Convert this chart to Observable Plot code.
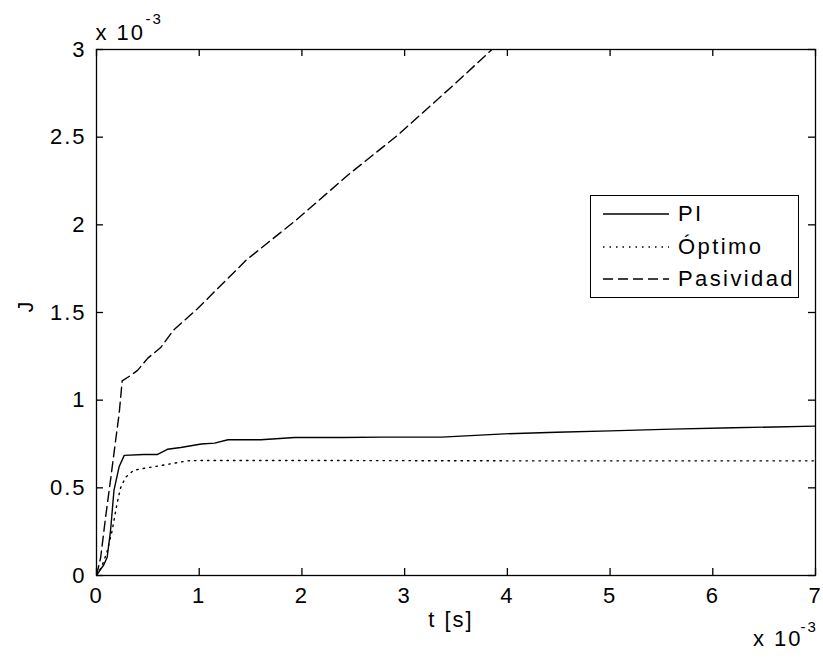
<!DOCTYPE html>
<html>
<head>
<meta charset="utf-8">
<script src="https://cdn.jsdelivr.net/npm/d3@7"></script>
<script src="https://cdn.jsdelivr.net/npm/@observablehq/plot@0.6"></script>
<style>
  html, body { margin: 0; padding: 0; background: #fff; }
  #wrap { position: relative; width: 823px; height: 659px; font-family: "Liberation Sans", Arial, sans-serif; }
  #legend { position: absolute; left: 590px; top: 195px; width: 209px; height: 103px; border: 1px solid #000; background: #fff; box-sizing: border-box; }
  #legend .row { position: absolute; left: 0; height: 30px; display: flex; align-items: center; }
  #legend .row span { font-size: 22px; letter-spacing: 2.4px; margin-left: 9px; }
</style>
</head>
<body>
<div id="wrap"></div>
<script>
// time in ms (x 10^-3 s), J in x 10^-3
const tPI  = [0, 0.04, 0.07, 0.104, 0.137, 0.17, 0.22, 0.27, 0.46, 0.59, 0.69, 0.82, 1.02, 1.15, 1.28, 1.6, 1.93, 2.4, 2.77, 3.36, 3.97, 4.48, 5.0, 5.6, 6.2, 6.6, 7.0];
const jPI  = [0, 0.035, 0.06, 0.104, 0.257, 0.485, 0.62, 0.685, 0.69, 0.69, 0.72, 0.73, 0.75, 0.755, 0.774, 0.774, 0.787, 0.787, 0.789, 0.789, 0.808, 0.817, 0.825, 0.835, 0.843, 0.847, 0.852];
const tOpt = [0, 0.05, 0.1, 0.15, 0.2, 0.234, 0.283, 0.36, 0.5, 0.625, 0.89, 1.0, 2.0, 3.0, 4.0, 5.0, 6.0, 7.0];
const jOpt = [0, 0.05, 0.13, 0.25, 0.41, 0.50, 0.56, 0.60, 0.615, 0.627, 0.654, 0.656, 0.656, 0.655, 0.654, 0.654, 0.654, 0.654];
const tPas = [0, 0.04, 0.088, 0.14, 0.186, 0.22, 0.25, 0.33, 0.40, 0.5, 0.625, 0.75, 0.98, 1.46, 1.95, 2.44, 2.93, 3.5, 3.85];
const jPas = [0, 0.10, 0.33, 0.56, 0.77, 0.92, 1.11, 1.14, 1.17, 1.24, 1.30, 1.40, 1.52, 1.80, 2.03, 2.28, 2.51, 2.81, 3.0];
const xTicks = [0, 1, 2, 3, 4, 5, 6, 7];
const yTicks = [0, 0.5, 1, 1.5, 2, 2.5, 3];
const seriesNames = ["PI", "Óptimo", "Pasividad"];
const xLabel = "t [s]";
const yLabel = "J";
const expBase = "x 10";
const expPow = "-3";

const mk = (ts, js) => ts.map((t, i) => ({t, j: js[i]}));
const dPI = mk(tPI, jPI), dOpt = mk(tOpt, jOpt), dPas = mk(tPas, jPas);
const dashes = ["none", "1.5,5", "10,5"];

const W = 823, H = 659, mL = 96, mR = 8, mT = 49, mB = 84;
const fw = W - mL - mR, fh = H - mT - mB, tk = 7;
const fs = 22;
const chart = Plot.plot({
  width: W,
  height: H,
  marginLeft: mL,
  marginRight: mR,
  marginTop: mT,
  marginBottom: mB,
  style: {fontFamily: "Liberation Sans, Arial, sans-serif", fontSize: fs + "px", background: "#fff", color: "#000", letterSpacing: "2px"},
  x: {domain: [0, 7], ticks: xTicks},
  y: {domain: [0, 3], ticks: yTicks},
  marks: [
    Plot.frame({stroke: "#000", strokeWidth: 1.3}),
    // tick labels
    Plot.axisX(xTicks, {anchor: "bottom", tickSize: 0, tickPadding: 12, label: null, tickFormat: d => String(d)}),
    Plot.axisY(yTicks, {anchor: "left", tickSize: 0, tickPadding: 10, label: null, tickFormat: d => String(d)}),
    // inward ticks on all four sides
    Plot.tickX(xTicks, {x: d => d, insetTop: fh - tk, stroke: "#000", strokeWidth: 1.3}),
    Plot.tickX(xTicks, {x: d => d, insetBottom: fh - tk, stroke: "#000", strokeWidth: 1.3}),
    Plot.tickY(yTicks, {y: d => d, insetRight: fw - tk, stroke: "#000", strokeWidth: 1.3}),
    Plot.tickY(yTicks, {y: d => d, insetLeft: fw - tk, stroke: "#000", strokeWidth: 1.3}),
    // series
    Plot.line(dPI, {x: "t", y: "j", stroke: "#000", strokeWidth: 1.4, clip: true}),
    Plot.line(dOpt, {x: "t", y: "j", stroke: "#000", strokeWidth: 1.4, strokeDasharray: dashes[1], clip: true}),
    Plot.line(dPas, {x: "t", y: "j", stroke: "#000", strokeWidth: 1.4, strokeDasharray: dashes[2], clip: true}),
    // axis labels
    Plot.text([xLabel], {frameAnchor: "bottom", dx: -5, dy: 51, text: d => d, fontSize: fs}),
    Plot.text([yLabel], {frameAnchor: "left", dx: -71, rotate: -90, text: d => d, fontSize: fs}),
    // exponent labels
    Plot.text([expBase], {frameAnchor: "top-left", textAnchor: "start", lineAnchor: "bottom", dx: -1, dy: -10, text: d => d, fontSize: fs}),
    Plot.text([expPow], {frameAnchor: "top-left", textAnchor: "start", lineAnchor: "bottom", dx: 49, dy: -26, text: d => d, fontSize: 15}),
    Plot.text([expBase], {frameAnchor: "bottom-right", textAnchor: "end", lineAnchor: "bottom", dx: -13, dy: 70, text: d => d, fontSize: fs}),
    Plot.text([expPow], {frameAnchor: "bottom-right", textAnchor: "start", lineAnchor: "bottom", dx: -15, dy: 56, text: d => d, fontSize: 15})
  ]
});
const wrap = document.getElementById("wrap");
wrap.appendChild(chart);

// legend
const legend = document.createElement("div");
legend.id = "legend";
const rowsY = [3, 36, 68];
seriesNames.forEach((name, i) => {
  const row = document.createElement("div");
  row.className = "row";
  row.style.top = rowsY[i] + "px";
  row.innerHTML = `<svg width="78" height="30"><line x1="12" x2="78" y1="15" y2="15" stroke="#000" stroke-width="1.3" ${dashes[i] !== "none" ? `stroke-dasharray="${dashes[i]}"` : ""}/></svg><span>${name}</span>`;
  legend.appendChild(row);
});
wrap.appendChild(legend);
</script>
</body>
</html>
